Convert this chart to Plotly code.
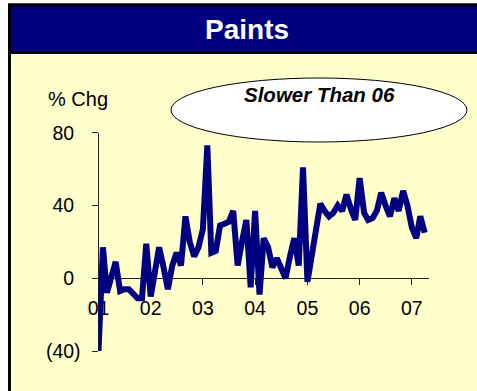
import pandas as pd
import plotly.graph_objects as go

W, H = 477, 391

# Monthly % change, Jan 2001 - Apr 2007
months = pd.date_range("2001-01-01", periods=76, freq="MS")
pct_chg = [
    -40, 17, -8, 0, 9, -7, -6, -6, -9, -11, -11, 19,     # 2001
    -10, 2, 17, 6, -6, 7, 14, 7, 34, 20, 12, 17,         # 2002
    27, 73, 14, 15, 29, 30, 31, 37, 7, 20, 32, -5,       # 2003
    37, -9, 22, 17, 6, 11, 5, 0, 12, 22, 7, 61,          # 2004
    -2, 14, 28, 41, 37, 34, 36, 40, 37, 46, 38, 32,      # 2005
    55, 36, 32, 33, 37, 47, 40, 34, 44, 37, 48, 40,      # 2006
    28, 22, 34, 25,                                      # 2007
]

year_ticks = ["2001-01-01", "2002-01-01", "2003-01-01", "2004-01-01",
              "2005-01-01", "2006-01-01", "2007-01-01"]
year_labels = ["01", "02", "03", "04", "05", "06", "07"]

y_ticks = [-40, 0, 40, 80]
# positive labels carry an invisible ")" so digits line up with "(40)"
pad = "<span style='color:rgba(0,0,0,0)'>)</span>"
y_labels = ["(40)", "0" + pad, "40" + pad, "80" + pad]

title_text = "Paints"
unit_text = "% Chg"
callout_text = "Slower Than 06"

FONT = "Liberation Sans, Arial, sans-serif"
NAVY = "#000080"
PANEL = "#FFFFCC"
TICK_SIZE = 19.5


def px(x):
    return x / W


def py(y):
    return 1 - y / H


# plot area in pixels
x_left, x_right = 98.5, 429.0
y_top, y_bottom = 132.7, 351.0
ydom = [py(y_bottom), py(y_top)]
zero_pos = ydom[0] + (0 - (-40)) / 120 * (ydom[1] - ydom[0])

fig = go.Figure()
fig.add_trace(go.Scatter(
    x=months, y=pct_chg, mode="lines",
    line=dict(color=NAVY, width=6),
    hoverinfo="skip", showlegend=False,
))

fig.update_layout(
    width=W, height=H,
    margin=dict(l=0, r=0, t=0, b=0),
    paper_bgcolor="white",
    plot_bgcolor="rgba(0,0,0,0)",
    font=dict(family=FONT, size=TICK_SIZE, color="black"),
    xaxis=dict(
        domain=[px(x_left), px(x_right)],
        range=["2001-01-01", "2007-05-01"],
        anchor="free", position=zero_pos,
        tickvals=year_ticks, ticktext=year_labels,
        ticks="outside", ticklen=6, tickcolor="#222", tickwidth=1,
        ticklabelstandoff=6,
        showline=True, linecolor="#222", linewidth=1,
        showgrid=False, zeroline=False, automargin=False,
        layer="below traces",
        tickfont=dict(family=FONT, size=TICK_SIZE, color="black"),
    ),
    yaxis=dict(
        domain=ydom,
        range=[-40, 80],
        tickvals=y_ticks, ticktext=y_labels,
        ticks="outside", ticklen=6, tickcolor="#222", tickwidth=1,
        ticklabelstandoff=7,
        showline=True, linecolor="#222", linewidth=1,
        showgrid=False, zeroline=False, automargin=False,
        layer="below traces",
        tickfont=dict(family=FONT, size=TICK_SIZE, color="black"),
    ),
    shapes=[
        # yellow panel with black frame
        dict(type="rect", xref="paper", yref="paper",
             x0=px(9.5), x1=px(W + 5), y0=py(H + 5), y1=py(5),
             fillcolor=PANEL, line=dict(color="black", width=3), layer="below"),
        # title band
        dict(type="rect", xref="paper", yref="paper",
             x0=px(9.5), x1=px(W + 5), y0=py(52.5), y1=py(5),
             fillcolor=NAVY, line=dict(color="black", width=3), layer="below"),
        # callout ellipse
        dict(type="circle", xref="paper", yref="paper",
             x0=px(171), x1=px(467), y0=py(142), y1=py(78),
             fillcolor="white", line=dict(color="black", width=1), layer="above"),
    ],
    annotations=[
        dict(text=f"<b>{title_text}</b>", xref="paper", yref="paper",
             x=px(247), y=py(30), showarrow=False,
             font=dict(family=FONT, size=28, color="white"),
             xanchor="center", yanchor="middle"),
        dict(text=unit_text, xref="paper", yref="paper",
             x=px(46), y=py(99), showarrow=False,
             font=dict(family=FONT, size=20, color="black"),
             xanchor="left", yanchor="middle"),
        dict(text=f"<b><i>{callout_text}</i></b>", xref="paper", yref="paper",
             x=px(319), y=py(95), showarrow=False,
             font=dict(family=FONT, size=20.5, color="black"),
             xanchor="center", yanchor="middle"),
    ],
)

fig.write_html("out.html")
